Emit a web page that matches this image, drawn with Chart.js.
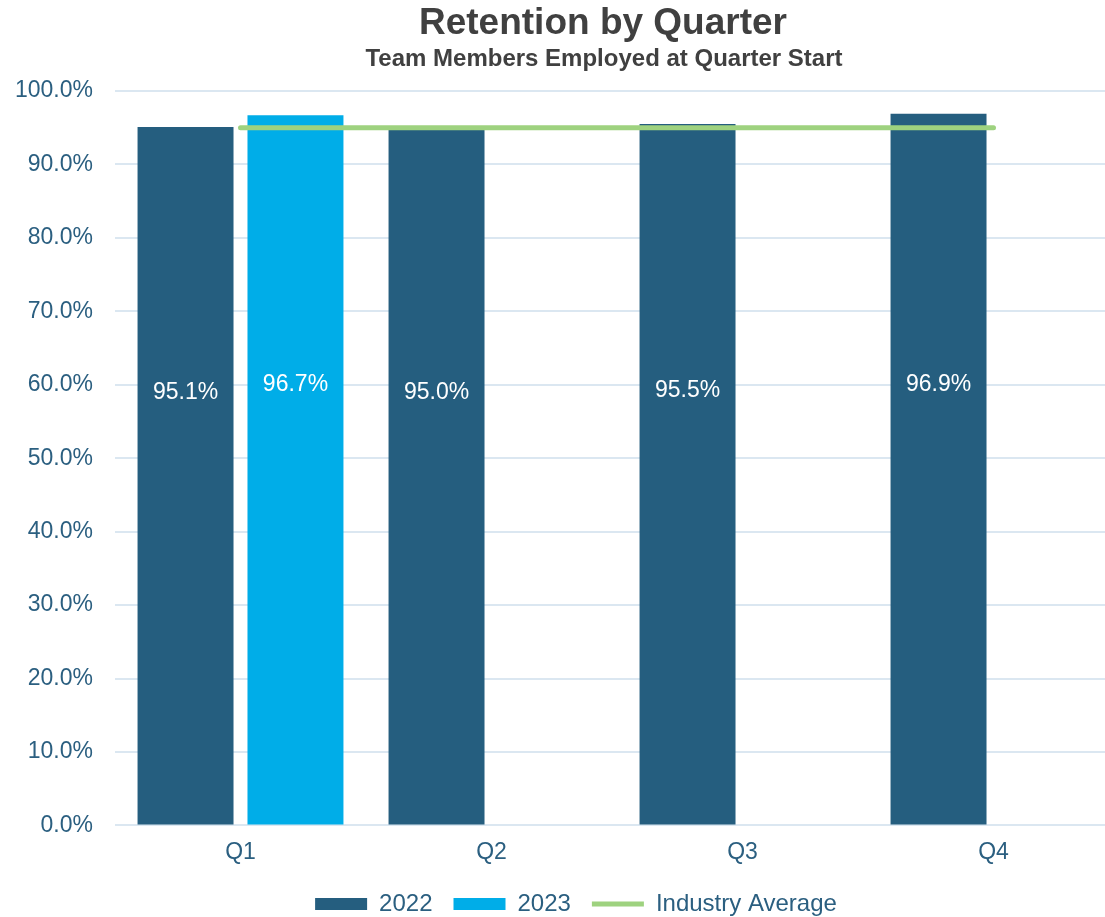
<!DOCTYPE html>
<html>
<head>
<meta charset="utf-8">
<script src="https://cdn.jsdelivr.net/npm/chart.js@4/dist/chart.umd.min.js"></script>
<style>
  html, body { margin: 0; padding: 0; background: #fff; overflow: hidden; }
  #wrap { width: 1125px; height: 917px; }
</style>
</head>
<body>
<div id="wrap"><canvas id="retention" width="1125" height="917"></canvas></div>
<script>
const quarters = ["Q1", "Q2", "Q3", "Q4"]
const retention2022 = [0.951, 0.950, 0.955, 0.969]
const retention2023 = [0.967, null, null, null]
const industryAverage = [0.950, 0.950, 0.950, 0.950]
const yTicks = [0, 0.1, 0.2, 0.3, 0.4, 0.5, 0.6, 0.7, 0.8, 0.9, 1.0]

const FONT = "'Liberation Sans', Arial, sans-serif"
const tickColor = "#2b5f80"
const gridColor = "#dbe7f1"

const pct = (v) => (v * 100).toFixed(1) + "%"

// heading text drawn above the plot
const headingPlugin = {
  id: "heading",
  afterDraw(chart) {
    const ctx = chart.ctx
    ctx.save()
    ctx.fillStyle = "#404040"
    ctx.textAlign = "center"
    ctx.textBaseline = "middle"
    ctx.font = "bold 37px " + FONT
    ctx.fillText("Retention by Quarter", 603, 24)
    ctx.font = "bold 24px " + FONT
    ctx.fillText("Team Members Employed at Quarter Start", 604, 59)
    ctx.restore()
  }
}

// nudge the legend row a little to the right
const legendShift = {
  id: "legendShift",
  afterLayout(chart) {
    if (!chart.legend) return
    chart.legend.left += 9
    chart.legend.right += 9
  }
}

// white value labels inside the bars
const barLabelPlugin = {
  id: "barLabels",
  afterDatasetsDraw(chart) {
    const ctx = chart.ctx
    const yScale = chart.scales.y
    ctx.save()
    ctx.fillStyle = "#ffffff"
    ctx.font = "23px " + FONT
    ctx.textAlign = "center"
    ctx.textBaseline = "middle"
    chart.data.datasets.forEach((ds, i) => {
      if (ds.type === "line") return
      const meta = chart.getDatasetMeta(i)
      meta.data.forEach((bar, j) => {
        const v = ds.data[j]
        if (v == null) return
        ctx.fillText(pct(v), bar.x, yScale.getPixelForValue(v * 0.62))
      })
    })
    ctx.restore()
  }
}

new Chart(document.getElementById("retention"), {
  type: "bar",
  data: {
    labels: quarters,
    datasets: [
      {
        label: "2022",
        data: retention2022,
        backgroundColor: "#255e7f",
        borderWidth: 0,
        pointStyle: "rect",
        categoryPercentage: 0.876,
        barPercentage: 0.873,
      },
      {
        label: "2023",
        data: retention2023,
        backgroundColor: "#00ade8",
        borderWidth: 0,
        pointStyle: "rect",
        categoryPercentage: 0.876,
        barPercentage: 0.873,
      },
      {
        type: "line",
        label: "Industry Average",
        data: industryAverage,
        borderColor: "#9ed27f",
        backgroundColor: "#9ed27f",
        borderWidth: 5,
        borderCapStyle: "round",
        pointRadius: 0,
        pointStyle: "line",
        order: -1,
      },
    ],
  },
  options: {
    responsive: false,
    animation: false,
    layout: { padding: { top: 91, left: 15, right: 6, bottom: -9 } },
    scales: {
      x: {
        grid: { display: false },
        border: { display: false },
        ticks: { color: tickColor, font: { family: FONT, size: 23 }, padding: 5 },
      },
      y: {
        min: 0,
        max: 1,
        afterBuildTicks: (axis) => { axis.ticks = yTicks.map((v) => ({ value: v })) },
        afterFit: (axis) => { axis.width = 100 },
        grid: { color: gridColor, lineWidth: 2, drawTicks: false },
        border: { display: false },
        ticks: {
          color: tickColor,
          font: { family: FONT, size: 23 },
          padding: 22,
          callback: (v) => pct(v),
        },
      },
    },
    plugins: {
      legend: {
        position: "bottom",
        labels: {
          color: tickColor,
          font: { family: FONT, size: 24 },
          usePointStyle: true,
          pointStyleWidth: 52,
          boxHeight: 12,
          padding: 21,
          sort: (a, b) => a.datasetIndex - b.datasetIndex,
        },
      },
      tooltip: { enabled: false },
    },
  },
  plugins: [headingPlugin, legendShift, barLabelPlugin],
})
</script>
</body>
</html>
